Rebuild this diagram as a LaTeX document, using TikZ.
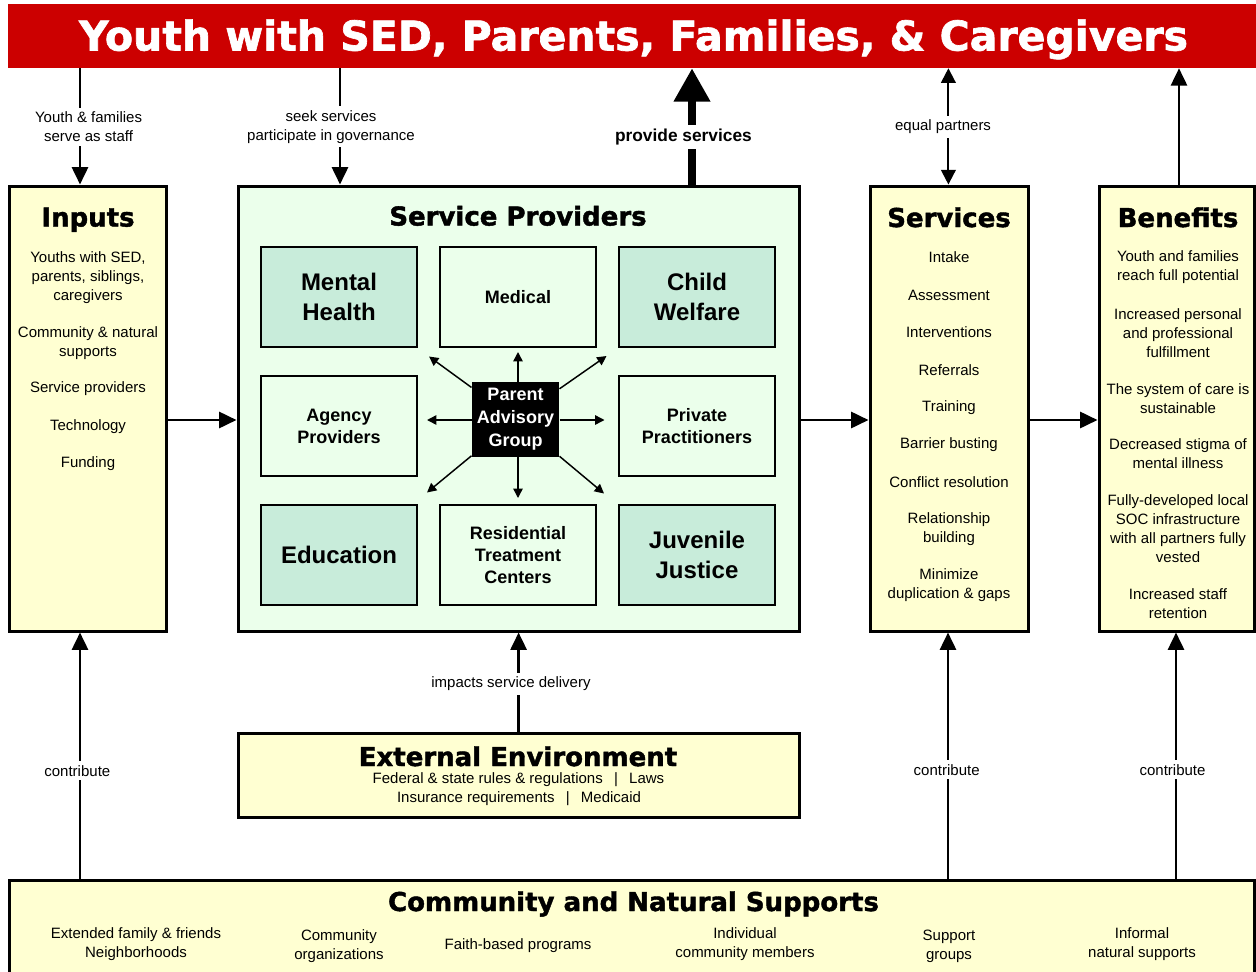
\documentclass[tikz,border=0pt]{standalone}
\usepackage{fontspec}
\setmainfont{Liberation Sans}
\newfontfamily\heavyfont{DejaVu Sans}[BoldFeatures={FakeBold=1.6}]
\usetikzlibrary{arrows.meta}
\definecolor{hdrred}{HTML}{CC0000}
\definecolor{paleyel}{HTML}{FFFFD2}
\definecolor{palegrn}{HTML}{EBFFEB}
\definecolor{midgrn}{HTML}{C8ECDA}
\begin{document}
\begin{tikzpicture}[x=0.75pt,y=-0.75pt,
  bigbox/.style={draw=black,line width=2.25pt,inner sep=0pt},
  ybox/.style={bigbox,fill=paleyel},
  sml/.style={font=\fontsize{11.25pt}{14.25pt}\selectfont,align=center,inner sep=0pt},
  ttl/.style={font=\heavyfont\bfseries\fontsize{19.5pt}{22pt}\selectfont,inner sep=0pt,anchor=base},
  inbox/.style={draw=black,line width=1.5pt,minimum width=117pt,minimum height=75pt,inner sep=0pt,align=center},
  inbig/.style={inbox,fill=midgrn,font=\bfseries\fontsize{18pt}{22pt}\selectfont},
  insml/.style={inbox,fill=palegrn,font=\bfseries\fontsize{13.5pt}{16.5pt}\selectfont},
  conn/.style={line width=2pt,-{Triangle[length=13pt,width=12pt]}},
  parr/.style={line width=1.1pt,-{Triangle[length=7pt,width=7pt]}},
  dblarr/.style={line width=1.5pt,{Triangle[length=11pt,width=11pt]}-{Triangle[length=11pt,width=11pt]}},
  bigarr/.style={line width=6pt,-{Triangle[length=25pt,width=26pt]}},
  lbl/.style={sml,fill=white,inner sep=3pt},
]
\useasboundingbox (0,0) rectangle (1256,971);

% header
\node[fill=hdrred,minimum width=936pt,minimum height=48pt,inner sep=0pt] (header) at (632,36) {};
\node[font=\heavyfont\bfseries\fontsize{30.75pt}{34pt}\selectfont,text=white,anchor=base,inner sep=0pt] (htxt) at (633.5,50.5) {Youth with SED, Parents, Families, \& Caregivers};

% main boxes
\node[ybox,minimum width=117.75pt,minimum height=333.75pt] (inputs) at (87.5,408.5) {};
\node[bigbox,fill=palegrn,minimum width=420.75pt,minimum height=333.75pt] (sp) at (518.5,408.5) {};
\node[ybox,minimum width=118.5pt,minimum height=333.75pt] (services) at (949,408.5) {};
\node[ybox,minimum width=116.25pt,minimum height=333.75pt] (benefits) at (1176.5,408.5) {};
\node[ybox,minimum width=420.75pt,minimum height=63pt] (ext) at (518.5,775) {};
\node[ybox,minimum width=933.75pt,minimum height=90pt] (comm) at (631.5,940) {};

% titles
\node[ttl] (tin) at (88,226.5) {Inputs};
\node[ttl] (tsp) at (518,225.5) {Service Providers};
\node[ttl] (tsv) at (949,227) {Services};
\node[ttl] (tbn) at (1178,227) {Benefits};
\node[ttl] (tex) at (518,766) {External Environment};
\node[ttl] (tcm) at (633.5,911) {Community and Natural Supports};

% inputs items
\node[sml] (in1) at (88,277.3) {Youths with SED,\\parents, siblings,\\caregivers};
\node[sml] (in2) at (88,342.7) {Community \& natural\\supports};
\node[sml] (in3) at (88,388.8) {Service providers};
\node[sml] (in4) at (88,427) {Technology};
\node[sml] (in5) at (88,463.8) {Funding};

% services items
\node[sml] (sv1) at (949,257.5) {Intake};
\node[sml] (sv2) at (949,295.2) {Assessment};
\node[sml] (sv3) at (949,332.5) {Interventions};
\node[sml] (sv4) at (949,370.2) {Referrals};
\node[sml] (sv5) at (949,407.5) {Training};
\node[sml] (sv6) at (949,444.5) {Barrier busting};
\node[sml] (sv7) at (949,482.5) {Conflict resolution};
\node[sml] (sv8) at (949,529.3) {Relationship\\building};
\node[sml] (sv9) at (949,585.5) {Minimize\\duplication \& gaps};

% benefits items
\node[sml] (bn1) at (1178,267.2) {Youth and families\\reach full potential};
\node[sml] (bn2) at (1178,333.2) {Increased personal\\and professional\\fulfillment};
\node[sml] (bn3) at (1178,398.3) {The system of care is\\sustainable};
\node[sml] (bn4) at (1178,454) {Decreased stigma of\\mental illness};
\node[sml] (bn5) at (1178,528.8) {Fully-developed local\\SOC infrastructure\\with all partners fully\\vested};
\node[sml] (bn6) at (1178,604) {Increased staff\\retention};

% external environment lines
\node[sml] (ex1) at (518.5,780) {Federal \& state rules \& regulations\hspace{0.75em}|\hspace{0.75em}Laws};
\node[sml] (ex2) at (519,799) {Insurance requirements\hspace{0.75em}|\hspace{0.75em}Medicaid};

% community items
\node[sml] (cm1) at (136,944.5) {Extended family \& friends\\Neighborhoods};
\node[sml] (cm2) at (339,946.5) {Community\\organizations};
\node[sml] (cm3) at (518,946) {Faith-based programs};
\node[sml] (cm4) at (745,944.5) {Individual\\community members};
\node[sml] (cm5) at (949,946.5) {Support\\groups};
\node[sml] (cm6) at (1142,944.5) {Informal\\natural supports};

% inner provider boxes
\node[inbig] (mh) at (339,297) {Mental\\Health};
\node[insml] (med) at (518,297) {Medical};
\node[inbig] (cw) at (697,297) {Child\\Welfare};
\node[insml] (ag) at (339,426) {Agency\\Providers};
\node[insml] (pp) at (697,426) {Private\\Practitioners};
\node[inbig] (edu) at (339,555) {Education};
\node[insml] (rtc) at (518,555) {Residential\\Treatment\\Centers};
\node[inbig] (jj) at (697,555) {Juvenile\\Justice};

% parent advisory group
\node[fill=black,minimum width=65.6pt,minimum height=56.25pt,inner sep=0pt,align=center,text=white,
  font=\bfseries\fontsize{13.5pt}{17.25pt}\selectfont] (pag) at (515.5,419.5) {Parent\\Advisory\\Group};

\coordinate (tU) at (518,352);
\coordinate (tD) at (518,498);
\coordinate (tL) at (427,420);
\coordinate (tR) at (604.5,420);
\coordinate (tUL) at (429,356.5);
\coordinate (tUR) at (606.5,356);
\coordinate (tDL) at (427,492.5);
\coordinate (tDR) at (604,493.5);
\draw[parr] (tU |- pag.north) -- (tU);
\draw[parr] (tD |- pag.south) -- (tD);
\draw[parr] (pag.west |- tL) -- (tL);
\draw[parr] (pag.east |- tR) -- (tR);
\draw[parr] (pag) -- (tUL);
\draw[parr] (pag) -- (tUR);
\draw[parr] (pag) -- (tDL);
\draw[parr] (pag) -- (tDR);

% connector columns
\coordinate (xa) at (80,0);
\coordinate (xb) at (340,0);
\coordinate (xc) at (692,0);
\coordinate (xd) at (948.4,0);
\coordinate (xe) at (1179,0);
\coordinate (xf) at (518.6,0);
\coordinate (xh) at (948,0);
\coordinate (xi) at (1176,0);
\coordinate (yr) at (0,420);

\draw[conn] (xa |- header.south) -- node[lbl,pos=0.505,xshift=6.4pt]{Youth \& families\\serve as staff} (xa |- inputs.north);
\draw[conn] (xb |- header.south) -- node[lbl,pos=0.505,xshift=-6.75pt]{seek services\\participate in governance} (xb |- sp.north);
\draw[bigarr] (xc |- sp.north) -- node[lbl,pos=0.41,xshift=-6.4pt,font=\bfseries\fontsize{13pt}{15pt}\selectfont]{provide services} (xc |- header.south);
\draw[dblarr] (xd |- header.south) -- node[lbl,pos=0.505,xshift=-4pt]{equal partners} (xd |- services.north);
\draw[conn] (xe |- benefits.north) -- (xe |- header.south);

\draw[conn] (inputs.east |- yr) -- (sp.west |- yr);
\draw[conn] (sp.east |- yr) -- (services.west |- yr);
\draw[conn] (services.east |- yr) -- (benefits.west |- yr);

\draw[conn] (xf |- ext.north) -- node[lbl,pos=0.48,xshift=-5.7pt]{impacts service delivery} (xf |- sp.south);
\draw[conn] (xa |- comm.north) -- node[lbl,pos=0.438,xshift=-2pt]{contribute} (xa |- inputs.south);
\draw[conn] (xh |- comm.north) -- node[lbl,pos=0.442,xshift=-1pt]{contribute} (xh |- services.south);
\draw[conn] (xi |- comm.north) -- node[lbl,pos=0.442,xshift=-2.6pt]{contribute} (xi |- benefits.south);
\end{tikzpicture}
\end{document}
